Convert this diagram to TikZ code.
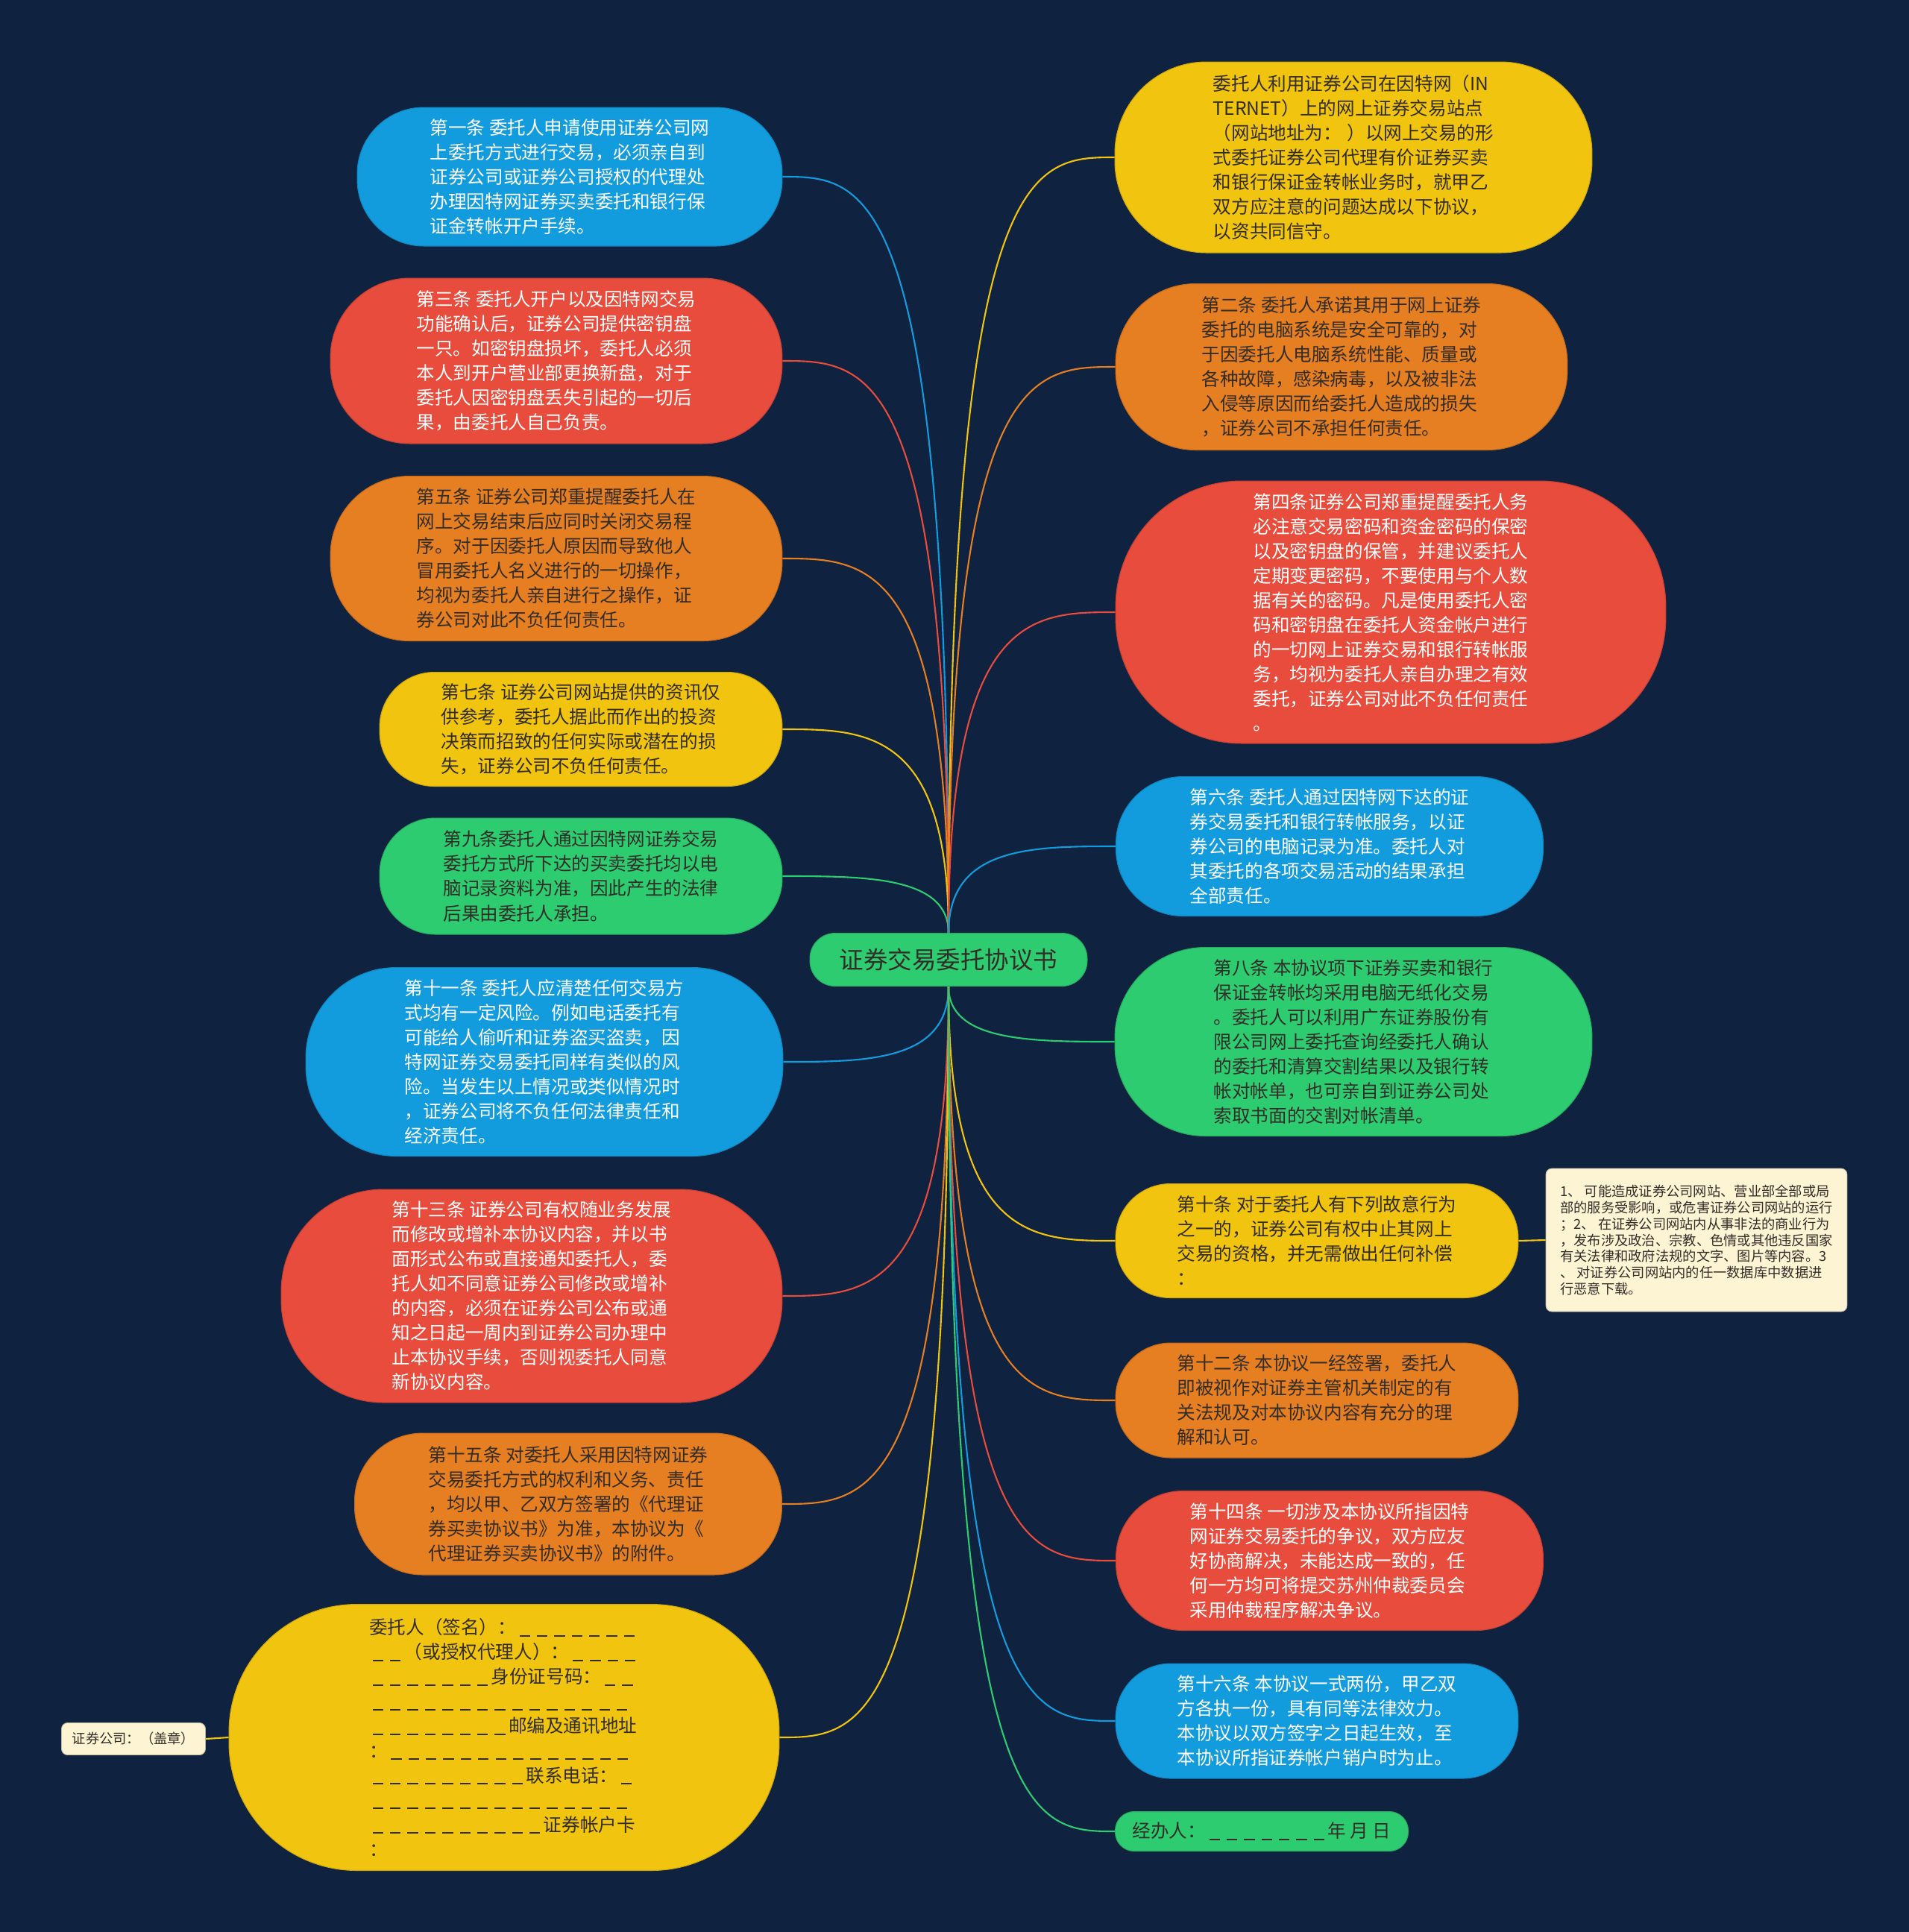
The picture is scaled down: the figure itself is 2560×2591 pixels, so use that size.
\documentclass[tikz,border=0pt]{standalone}
\usepackage{fontspec}
\newfontfamily\cjk{Noto Sans CJK SC}
\usetikzlibrary{calc}

\definecolor{bgnavy}{RGB}{15,34,64}
\definecolor{cblue}{RGB}{18,156,221}
\definecolor{cred}{RGB}{231,76,60}
\definecolor{corange}{RGB}{230,126,34}
\definecolor{cyellow}{RGB}{241,196,15}
\definecolor{cgreen}{RGB}{46,204,113}
\definecolor{cnote}{RGB}{253,244,212}
\definecolor{cdark}{RGB}{51,45,40}

% blank line pieces of the signature form
\newcommand\ublank{\makebox[0.95em]{\rule[-0.12em]{0.58em}{0.07em}}}
\newcommand\ublanks[1]{\foreach \k in {1,...,#1}{\ublank}}

\begin{document}
\begin{tikzpicture}[x=0.02cm,y=-0.02cm,
    leaf/.style 2 args={minimum width=#1, minimum height=#2, rounded corners=0.48*#2,
        align=left, inner sep=0pt, line width=0.6pt, font=\cjk\fontsize{14}{18.8}\selectfont},
    blueleaf/.style 2 args={leaf={#1}{#2}, fill=cblue, draw=cblue!85!black, text=white},
    redleaf/.style 2 args={leaf={#1}{#2}, fill=cred, draw=cred!85!black, text=white},
    orangeleaf/.style 2 args={leaf={#1}{#2}, fill=corange, draw=corange!85!black, text=cdark},
    yellowleaf/.style 2 args={leaf={#1}{#2}, fill=cyellow, draw=cyellow!85!black, text=cdark},
    greenleaf/.style 2 args={leaf={#1}{#2}, fill=cgreen, draw=cgreen!85!black, text=cdark},
    notebox/.style={fill=cnote, draw=cnote!75!black, rounded corners=0.16cm, align=left,
        text=cdark, line width=0.5pt, font=\cjk\fontsize{10.4}{12.4}\selectfont},
    link/.style={line width=1.2pt, to path={.. controls (\tikztostart |- \tikztotarget)
        and ($(\tikztostart |- \tikztotarget)!0.5!(\tikztotarget)$) .. (\tikztotarget)}}]

    % background
    \fill[bgnavy] (0,0) rectangle (2560,2591);
    \useasboundingbox (0,0) rectangle (2560,2591);

    % root
    \node[fill=cgreen, draw=cgreen!85!black, line width=0.6pt, rounded corners=0.68cm,
        minimum width=7.44cm, minimum height=1.42cm, text=cdark,
        font=\cjk\fontsize{18.5}{22}\selectfont] (root) at (1272,1287) {证券交易委托协议书};

    % left column
    \node[blueleaf={11.4cm}{3.72cm}] (art1) at (764,237) {第一条 委托人申请使用证券公司网\\上委托方式进行交易，必须亲自到\\证券公司或证券公司授权的代理处\\办理因特网证券买卖委托和银行保\\证金转帐开户手续。};
    \node[redleaf={12.12cm}{4.44cm}] (art3) at (746,484) {第三条 委托人开户以及因特网交易\\功能确认后，证券公司提供密钥盘\\一只。如密钥盘损坏，委托人必须\\本人到开户营业部更换新盘，对于\\委托人因密钥盘丢失引起的一切后\\果，由委托人自己负责。};
    \node[orangeleaf={12.12cm}{4.42cm}] (art5) at (746,749) {第五条 证券公司郑重提醒委托人在\\网上交易结束后应同时关闭交易程\\序。对于因委托人原因而导致他人\\冒用委托人名义进行的一切操作，\\均视为委托人亲自进行之操作，证\\券公司对此不负任何责任。};
    \node[yellowleaf={10.8cm}{3.06cm}] (art7) at (779,978) {第七条 证券公司网站提供的资讯仅\\供参考，委托人据此而作出的投资\\决策而招致的任何实际或潜在的损\\失，证券公司不负任何责任。};
    \node[greenleaf={10.8cm}{3.12cm}] (art9) at (779,1175) {第九条委托人通过因特网证券交易\\委托方式所下达的买卖委托均以电\\脑记录资料为准，因此产生的法律\\后果由委托人承担。};
    \node[blueleaf={12.8cm}{5.06cm}] (art11) at (730,1424) {第十一条 委托人应清楚任何交易方\\式均有一定风险。例如电话委托有\\可能给人偷听和证券盗买盗卖，因\\特网证券交易委托同样有类似的风\\险。当发生以上情况或类似情况时\\，证券公司将不负任何法律责任和\\经济责任。};
    \node[redleaf={13.44cm}{5.72cm}] (art13) at (713,1738) {第十三条 证券公司有权随业务发展\\而修改或增补本协议内容，并以书\\面形式公布或直接通知委托人，委\\托人如不同意证券公司修改或增补\\的内容，必须在证券公司公布或通\\知之日起一周内到证券公司办理中\\止本协议手续，否则视委托人同意\\新协议内容。};
    \node[orangeleaf={11.46cm}{3.8cm}] (art15) at (762,2017) {第十五条 对委托人采用因特网证券\\交易委托方式的权利和义务、责任\\，均以甲、乙双方签署的《代理证\\券买卖协议书》为准，本协议为《\\代理证券买卖协议书》的附件。};
    \node[yellowleaf={14.76cm}{7.14cm}] (sign) at (676,2330) {委托人（签名）：\ublanks{7}\\\ublanks{2}（或授权代理人）：\ublanks{4}\\\ublanks{7}身份证号码：\ublanks{2}\\\ublanks{15}\\\ublanks{8}邮编及通讯地址\\：\ublanks{14}\\\ublanks{9}联系电话：\ublanks{1}\\\ublanks{15}\\\ublanks{10}证券帐户卡\\：};
    \node[notebox, minimum width=3.86cm, minimum height=0.86cm] (stamp) at (179,2332) {证券公司：（盖章）};

    % right column
    \node[yellowleaf={12.8cm}{5.12cm}] (intro) at (1815,211) {委托人利用证券公司在因特网（IN\\TERNET）上的网上证券交易站点\\（网站地址为：\hspace{0.3em}）以网上交易的形\\式委托证券公司代理有价证券买卖\\和银行保证金转帐业务时，就甲乙\\双方应注意的问题达成以下协议，\\以资共同信守。};
    \node[orangeleaf={12.12cm}{4.46cm}] (art2) at (1799,492) {第二条 委托人承诺其用于网上证券\\委托的电脑系统是安全可靠的，对\\于因委托人电脑系统性能、质量或\\各种故障，感染病毒，以及被非法\\入侵等原因而给委托人造成的损失\\，证券公司不承担任何责任。};
    \node[redleaf={14.76cm}{7.04cm}] (art4) at (1865,821) {第四条证券公司郑重提醒委托人务\\必注意交易密码和资金密码的保密\\以及密钥盘的保管，并建议委托人\\定期变更密码，不要使用与个人数\\据有关的密码。凡是使用委托人密\\码和密钥盘在委托人资金帐户进行\\的一切网上证券交易和银行转帐服\\务，均视为委托人亲自办理之有效\\委托，证券公司对此不负任何责任\\。};
    \node[blueleaf={11.46cm}{3.74cm}] (art6) at (1783,1135) {第六条 委托人通过因特网下达的证\\券交易委托和银行转帐服务，以证\\券公司的电脑记录为准。委托人对\\其委托的各项交易活动的结果承担\\全部责任。};
    \node[greenleaf={12.8cm}{5.06cm}] (art8) at (1815,1397) {第八条 本协议项下证券买卖和银行\\保证金转帐均采用电脑无纸化交易\\。委托人可以利用广东证券股份有\\限公司网上委托查询经委托人确认\\的委托和清算交割结果以及银行转\\帐对帐单，也可亲自到证券公司处\\索取书面的交割对帐清单。};
    \node[yellowleaf={10.8cm}{3.06cm}] (art10) at (1766,1664) {第十条 对于委托人有下列故意行为\\之一的，证券公司有权中止其网上\\交易的资格，并无需做出任何补偿\\：};
    \node[notebox, minimum width=8.08cm, minimum height=3.84cm] (acts) at (2275,1663) {1、 可能造成证券公司网站、营业部全部或局\\部的服务受影响，或危害证券公司网站的运行\\；2、 在证券公司网站内从事非法的商业行为\\，发布涉及政治、宗教、色情或其他违反国家\\有关法律和政府法规的文字、图片等内容。3\\、 对证券公司网站内的任一数据库中数据进\\行恶意下载。};
    \node[orangeleaf={10.8cm}{3.08cm}] (art12) at (1766,1878) {第十二条 本协议一经签署，委托人\\即被视作对证券主管机关制定的有\\关法规及对本协议内容有充分的理\\解和认可。};
    \node[redleaf={11.46cm}{3.74cm}] (art14) at (1783,2093) {第十四条 一切涉及本协议所指因特\\网证券交易委托的争议，双方应友\\好协商解决，未能达成一致的，任\\何一方均可将提交苏州仲裁委员会\\采用仲裁程序解决争议。};
    \node[blueleaf={10.8cm}{3.08cm}] (art16) at (1766,2308) {第十六条 本协议一式两份，甲乙双\\方各执一份，具有同等法律效力。\\本协议以双方签字之日起生效，至\\本协议所指证券帐户销户时为止。};
    \node[greenleaf={7.86cm}{1.06cm}] (agent) at (1692,2456) {经办人：\ublanks{7}年 月 日};

    % branches to the left
    \draw[link, cblue] (root.north) to (art1.east);
    \draw[link, cred] (root.north) to (art3.east);
    \draw[link, corange] (root.north) to (art5.east);
    \draw[link, cyellow] (root.north) to (art7.east);
    \draw[link, cgreen] (root.north) to (art9.east);
    \draw[link, cblue] (root.south) to (art11.east);
    \draw[link, cred] (root.south) to (art13.east);
    \draw[link, corange] (root.south) to (art15.east);
    \draw[link, cyellow] (root.south) to (sign.east);
    \draw[line width=1.2pt, cyellow] (sign.west) -- (stamp.east);

    % branches to the right
    \draw[link, cyellow] (root.north) to (intro.west);
    \draw[link, corange] (root.north) to (art2.west);
    \draw[link, cred] (root.north) to (art4.west);
    \draw[link, cblue] (root.north) to (art6.west);
    \draw[link, cgreen] (root.south) to (art8.west);
    \draw[link, cyellow] (root.south) to (art10.west);
    \draw[line width=1.2pt, cyellow] (art10.east) -- (acts.west);
    \draw[link, corange] (root.south) to (art12.west);
    \draw[link, cred] (root.south) to (art14.west);
    \draw[link, cblue] (root.south) to (art16.west);
    \draw[link, cgreen] (root.south) to (agent.west);
\end{tikzpicture}
\end{document}
